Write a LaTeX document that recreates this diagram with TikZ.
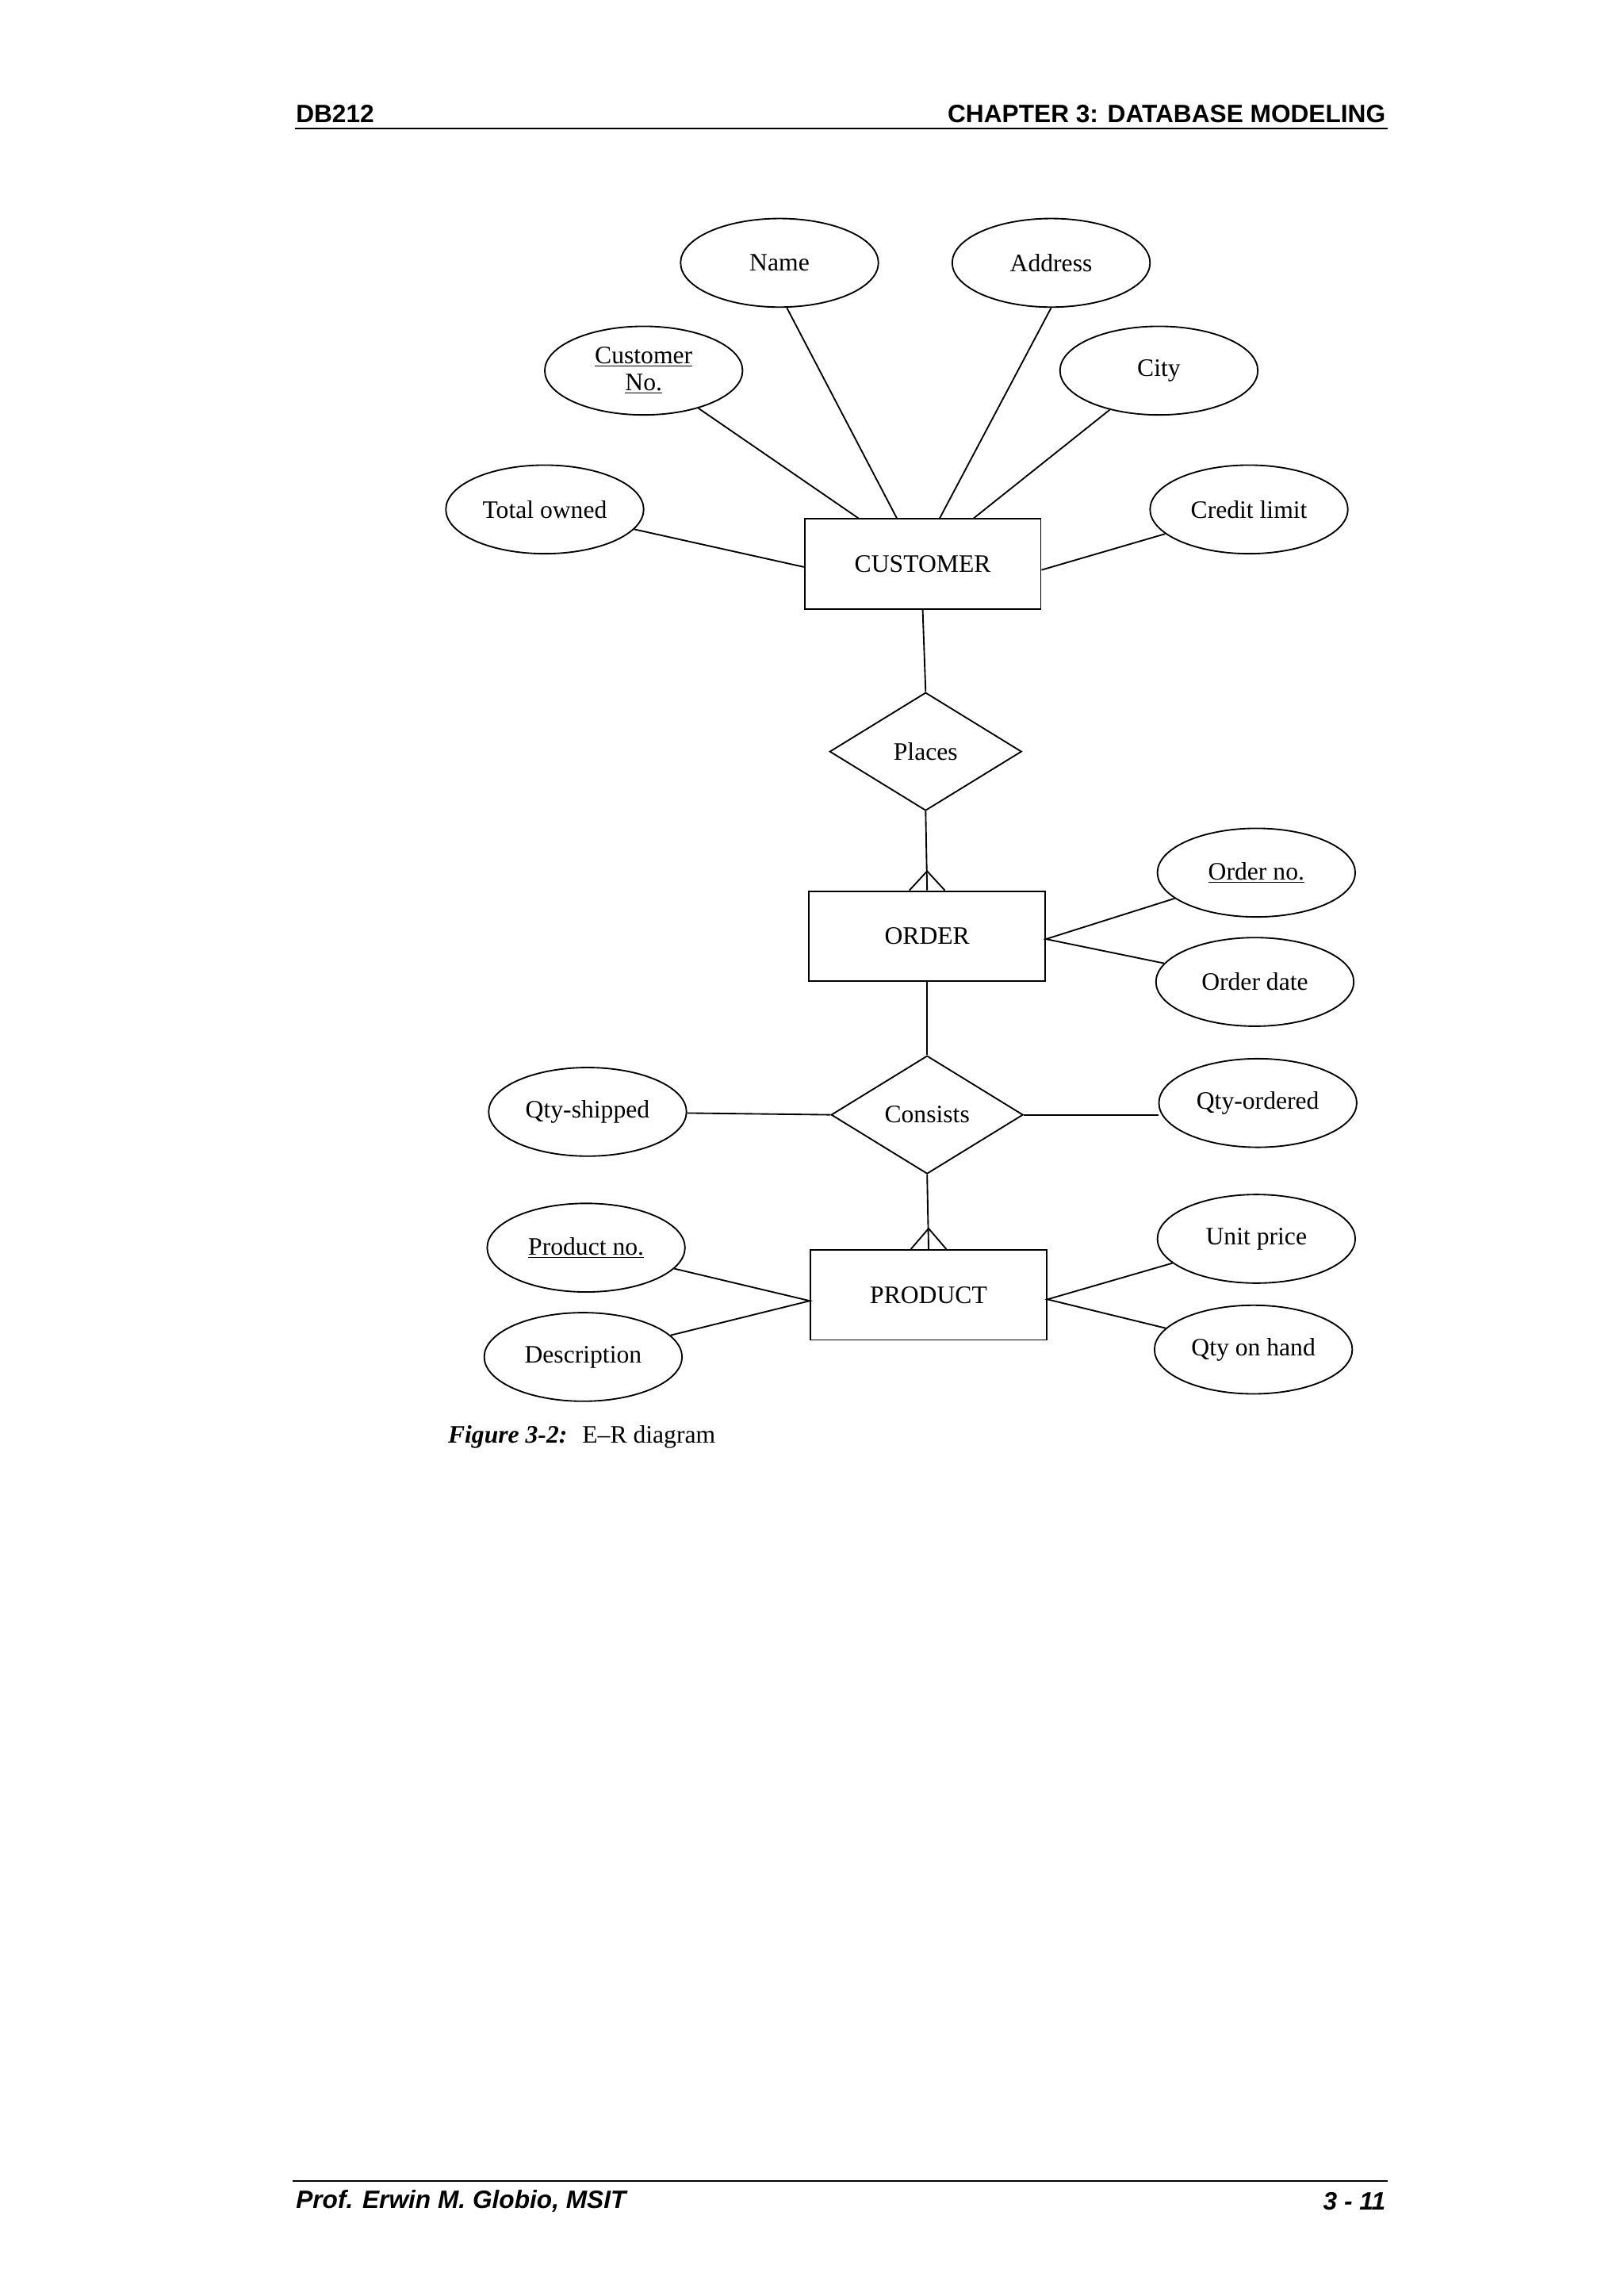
\documentclass[tikz,border=0pt]{standalone}
\usepackage{fontspec}
\setmainfont{Liberation Serif}
\newfontfamily\hdr{Liberation Sans}
\usetikzlibrary{shapes.geometric,calc}
\begin{document}
\begin{tikzpicture}[x=1pt,y=-1pt,line width=1pt,
  every node/.style={font=\fontsize{17}{20}\selectfont},
  attr/.style={draw,ellipse,minimum width=134pt,minimum height=60pt,inner sep=0pt,align=center},
  ent/.style={draw,rectangle,minimum width=160pt,minimum height=61pt,inner sep=0pt},
  rel/.style={draw,diamond,minimum width=130pt,minimum height=80pt,inner sep=0pt,aspect=1.6},
  hd/.style={font=\hdr\bfseries\fontsize{17}{20}\selectfont,inner sep=0pt}]
\useasboundingbox (0,0) rectangle (1100,1555);
% header/footer
\node[hd,anchor=west] (h1) at (200,77) {DB212};
\node[hd,anchor=east] (h2) at (939,77) {CHAPTER 3: DATABASE MODELING};
\draw[line width=1.2pt] (200,87) -- (940,87);
\draw[line width=1pt] (198,1477) -- (940,1477);
\node[hd,anchor=west,font=\hdr\bfseries\itshape\fontsize{17}{20}\selectfont] (f1) at (200,1491) {Prof. Erwin M. Globio, MSIT};
\node[hd,anchor=east,font=\hdr\bfseries\itshape\fontsize{17}{20}\selectfont] (f2) at (939,1491) {3 - 11};
% entities
\node[ent] (cust) at (625,382) {CUSTOMER};
\node[ent] (order) at (628,634) {ORDER};
\node[ent] (prod) at (629,877) {PRODUCT};
\node[rel] (places) at (627,509) {Places};
\node[rel] (cons) at (628,755) {Consists};
% attributes
\node[attr] (name) at (528,178) {Name};
\node[attr] (addr) at (712,178) {Address};
\node[attr] (cno) at (436,251) {\underline{Customer}\\[-2pt]\underline{No.}};
\node[attr] (city) at (785,251) {City};
\node[attr] (tot) at (369,345) {Total owned};
\node[attr] (cred) at (846,345) {Credit limit};
\node[attr] (ono) at (851,591) {\underline{Order no.}};
\node[attr] (odate) at (850,665) {Order date};
\node[attr] (qs) at (398,753) {Qty-shipped};
\node[attr] (qo) at (852,747) {Qty-ordered};
\node[attr] (pno) at (397,845) {\underline{Product no.}};
\node[attr] (desc) at (395,919) {Description};
\node[attr] (up) at (851,839) {Unit price};
\node[attr] (qoh) at (849,914) {Qty on hand};
% customer attribute lines
\draw (cno) -- ($(cust.north west)+(37,0)$);
\draw (name.south) ++(5,0) coordinate (n1) (n1) -- ($(cust.north west)+(63,0)$);
\draw (addr.south) -- ($(cust.north west)+(92,0)$);
\draw (city) -- ($(cust.north west)+(115,0)$);
\draw (tot) -- ($(cust.west)+(0,2)$);
\draw (cred) -- ($(cust.east)+(0,4)$);
% relationships
\draw (cust.south) -- (places.north);
\draw (places.south) -- (order.north);
\coordinate (cf1) at ($(order.north)+(0,-13)$);
\draw ($(order.north)+(-12,0)$) -- (cf1) -- ($(order.north)+(12,0)$);
\draw (ono) -- ($(order.east)+(0,2)$) -- (odate);
\draw (order.south) -- (cons.north);
\draw (qs) -- (cons.west);
\draw (cons.east) -- (qo.west|-cons.east);
\draw (cons.south) -- (prod.north);
\coordinate (cf2) at ($(prod.north)+(0,-14)$);
\draw ($(prod.north)+(-12,0)$) -- (cf2) -- ($(prod.north)+(12,0)$);
\draw (pno) -- ($(prod.west)+(0,4)$) -- (desc);
\draw (up) -- ($(prod.east)+(0,3)$) -- (qoh);
% caption
\node[anchor=west,inner sep=0pt] (cap) at (303,973) {\textbf{\textit{Figure 3-2:}}\hspace{0.6em}E–R diagram};
\end{tikzpicture}
\end{document}
